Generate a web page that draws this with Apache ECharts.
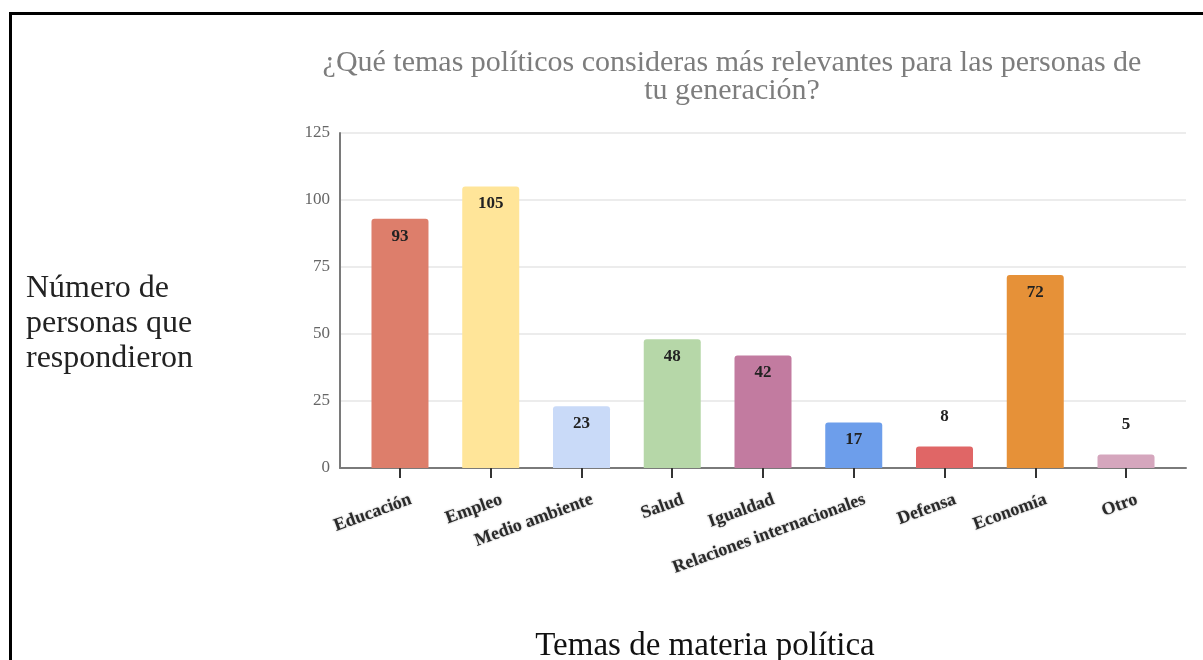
<!DOCTYPE html>
<html>
<head>
<meta charset="utf-8">
<script src="https://cdn.jsdelivr.net/npm/echarts@6/dist/echarts.min.js"></script>
<style>
  html, body { margin: 0; padding: 0; background: #ffffff; }
  #chart { width: 1203px; height: 660px; }
</style>
</head>
<body>
<div id="chart"></div>
<script>
// Topics and how many respondents picked each one
const categories = ['Educación', 'Empleo', 'Medio ambiente', 'Salud', 'Igualdad',
  'Relaciones internacionales', 'Defensa', 'Economía', 'Otro'];
const values = [93, 105, 23, 48, 42, 17, 8, 72, 5];
const barColors = ['#dd7e6b', '#ffe599', '#c9daf8', '#b6d7a8', '#c27ba0',
  '#6d9eeb', '#e06666', '#e69138', '#d5a6bd'];
const yTicks = [0, 25, 50, 75, 100, 125];

const SERIF = "'Liberation Serif', 'Times New Roman', serif";
const positions = categories.map((_, i) => i);
// Padding of the category band at both ends of the x range
const pad = 0.661;

const chart = echarts.init(document.getElementById('chart'));

const barData = values.map((v, i) => ({
  value: [i, v],
  itemStyle: { color: barColors[i] },
  label: v < 10 ? { position: 'top', distance: 21 } : undefined
}));

chart.setOption({
  backgroundColor: '#ffffff',
  animation: false,
  title: {
    text: '¿Qué temas políticos consideras más relevantes para las personas de\ntu generación?',
    left: 727,
    top: 44,
    textAlign: 'center',
    textStyle: {
      fontFamily: SERIF,
      fontWeight: 'normal',
      fontSize: 30,
      lineHeight: 28,
      color: '#7d7d7d'
    }
  },
  grid: { left: 340, right: 17, top: 133, bottom: 192 },
  xAxis: [
    {
      type: 'value',
      position: 'bottom',
      min: -pad,
      max: categories.length - 1 + pad,
      splitLine: { show: false },
      axisLine: { show: true, onZero: false, lineStyle: { color: '#7a7a7a', width: 2 } },
      axisTick: {
        show: true,
        customValues: positions,
        length: 10,
        lineStyle: { color: '#333333', width: 2 }
      },
      axisLabel: {
        customValues: positions.map(p => p + 0.12),
        formatter: v => categories[Math.round(v)],
        rotate: 20,
        margin: 31,
        fontFamily: SERIF,
        fontWeight: 'bold',
        fontSize: 18,
        color: '#2a2a2a',
        textShadowColor: 'rgba(0,0,0,0.35)',
        textShadowBlur: 2
      }
    },
    {
      // Upper half of the ticks, so each tick crosses the baseline
      type: 'value',
      position: 'bottom',
      min: -pad,
      max: categories.length - 1 + pad,
      splitLine: { show: false },
      axisLine: { show: false, onZero: false },
      axisTick: {
        show: true,
        inside: true,
        customValues: positions,
        length: 10,
        lineStyle: { color: '#333333', width: 2 }
      },
      axisLabel: { show: false }
    }
  ],
  yAxis: {
    type: 'value',
    min: yTicks[0],
    max: yTicks[yTicks.length - 1],
    interval: 25,
    axisLine: { show: true, onZero: false, lineStyle: { color: '#7a7a7a', width: 2 } },
    axisTick: { show: false },
    splitLine: { lineStyle: { color: '#e6e6e6', width: 1.5 } },
    axisLabel: {
      margin: 10,
      fontFamily: SERIF,
      fontSize: 17,
      color: '#666666'
    }
  },
  series: [
    {
      type: 'bar',
      xAxisIndex: 0,
      barWidth: 57,
      data: barData,
      itemStyle: { borderRadius: [3, 3, 0, 0] },
      label: {
        show: true,
        position: 'insideTop',
        distance: 9,
        formatter: p => p.value[1],
        fontFamily: SERIF,
        fontWeight: 'bold',
        fontSize: 17,
        color: '#222222'
      },
      z: 1
    }
  ],
  graphic: [
    {
      type: 'rect',
      shape: { x: 10.5, y: 13.5, width: 1250, height: 800 },
      style: { fill: 'none', stroke: '#000000', lineWidth: 3 },
      z: -1
    },
    {
      type: 'text',
      left: 26,
      top: 271,
      style: {
        text: 'Número de\npersonas que\nrespondieron',
        fontFamily: SERIF,
        fontSize: 32,
        lineHeight: 35,
        fill: '#222222'
      }
    },
    {
      type: 'text',
      x: 705,
      y: 646,
      style: {
        text: 'Temas de materia política',
        fontFamily: SERIF,
        fontSize: 33,
        fill: '#111111',
        align: 'center',
        verticalAlign: 'middle'
      }
    }
  ]
});
</script>
</body>
</html>
